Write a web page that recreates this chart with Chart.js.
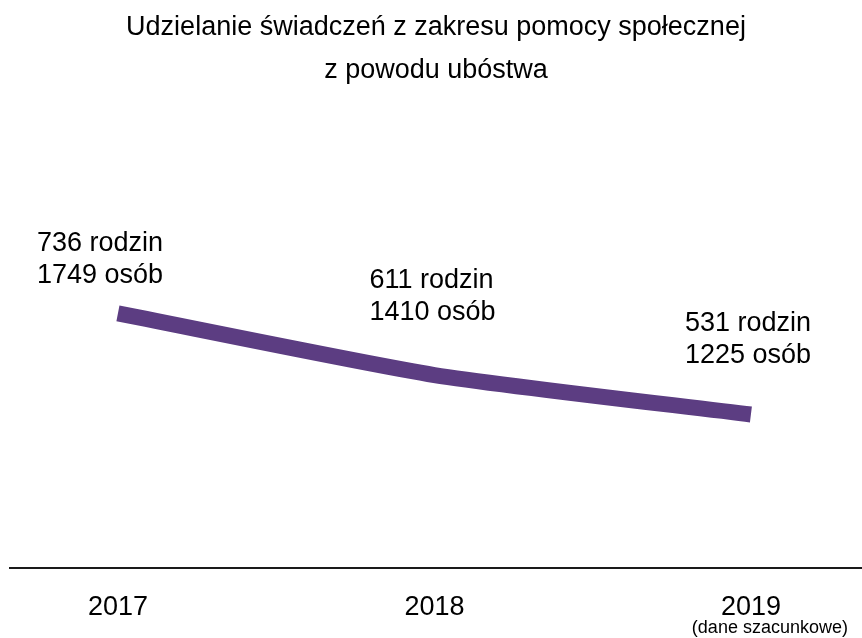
<!DOCTYPE html>
<html>
<head>
<meta charset="utf-8">
<script src="https://cdn.jsdelivr.net/npm/chart.js@4"></script>
<style>
html,body{margin:0;padding:0;background:#fff}
#wrap{width:862px;height:638px}
</style>
</head>
<body>
<div id="wrap"><canvas id="myChart"></canvas></div>
<script>
const lata = [2017, 2018, 2019];
const rodziny = [736, 611, 531];
const osoby = [1749, 1410, 1225];
const uwaga2019 = '(dane szacunkowe)';
const tytul = ['Udzielanie świadczeń z zakresu pomocy społecznej', 'z powodu ubóstwa'];

const czcionka = '"Liberation Sans", Arial, sans-serif';
// gdzie stoi opis nad punktem (wzgledem punktu)
const przesuniecia = [[-81, -70], [-65, -94], [-66, -91]];

const podpisy = {
  id: 'podpisy',
  afterDatasetsDraw(chart) {
    const ctx = chart.ctx;
    const meta = chart.getDatasetMeta(0);
    ctx.save();
    ctx.fillStyle = '#000';
    ctx.font = '27px ' + czcionka;
    ctx.textBaseline = 'middle';
    ctx.textAlign = 'left';
    meta.data.forEach((p, i) => {
      const dx = przesuniecia[i][0], dy = przesuniecia[i][1];
      ctx.fillText(rodziny[i] + ' rodzin', p.x + dx, p.y + dy);
      ctx.fillText(osoby[i] + ' osób', p.x + dx, p.y + dy + 32);
    });
    // dopisek pod 2019
    const xs = chart.scales.x;
    ctx.font = '18px ' + czcionka;
    ctx.textAlign = 'center';
    ctx.fillText(uwaga2019, xs.getPixelForValue(lata[2]) + 19, 628);
    ctx.restore();
  }
};

const ctxWykres = document.getElementById('myChart');
new Chart(ctxWykres, {
  type: 'line',
  data: {
    datasets: [{
      label: 'rodziny',
      data: lata.map((r, i) => ({ x: r, y: rodziny[i] })),
      borderColor: '#5c3d82',
      backgroundColor: '#5c3d82',
      borderWidth: 16,
      borderCapStyle: 'butt',
      borderJoinStyle: 'round',
      tension: 0.2,
      pointRadius: 0,
      pointHoverRadius: 0,
      fill: false
    }]
  },
  options: {
    responsive: true,
    maintainAspectRatio: false,
    animation: false,
    layout: { autoPadding: false, padding: { left: 10, right: 0, top: 0, bottom: -10 } },
    plugins: {
      legend: { display: false },
      tooltip: { enabled: false },
      title: {
        display: true,
        text: tytul,
        color: '#000',
        font: { family: czcionka, size: 27, weight: 'normal', lineHeight: 1.6 },
        padding: { top: 6, bottom: 10 }
      }
    },
    scales: {
      x: {
        type: 'linear',
        min: 2016.659,
        max: 2019.351,
        afterBuildTicks: (scale) => { scale.ticks = lata.map(v => ({ value: v })); },
        grid: { display: false, drawTicks: false },
        border: { display: true, color: '#1a1a1a', width: 2 },
        ticks: {
          autoSkip: false,
          maxRotation: 0,
          padding: 32,
          color: '#000',
          font: { family: czcionka, size: 27, lineHeight: 0.6 },
          callback: (v) => String(v)
        }
      },
      y: {
        display: false,
        min: 220,
        max: 1164
      }
    }
  },
  plugins: [podpisy]
});
</script>
</body>
</html>
